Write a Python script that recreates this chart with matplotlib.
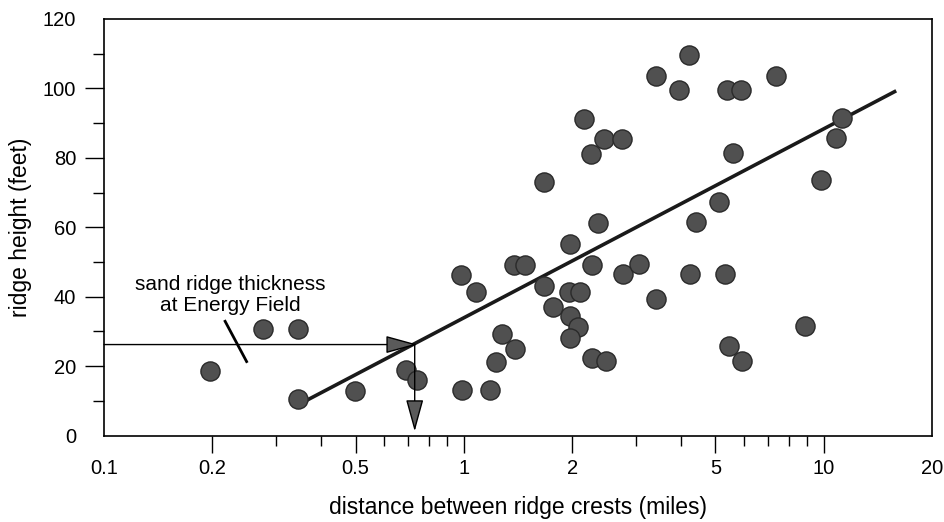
import numpy as np
import matplotlib
matplotlib.use("Agg")
import matplotlib.pyplot as plt
from matplotlib.ticker import FixedLocator, FixedFormatter, NullFormatter

plt.rcParams['font.family'] = ['Liberation Sans', 'DejaVu Sans']

# ridge spacing (miles) and ridge height (feet)
dist = [0.197, 0.277, 0.347, 0.347, 0.498,
        0.690, 0.742, 0.985, 1.18, 0.980, 1.08, 1.28, 1.386, 1.23,
        1.377, 1.477, 1.67, 1.67, 1.77, 1.97, 1.96, 2.10, 1.97, 2.07,
        1.97, 2.36, 2.27, 2.27, 2.48, 2.16, 2.45, 2.75, 2.25, 2.76,
        3.06, 3.41, 3.42,
        4.22, 3.96, 5.40, 5.88, 7.36, 11.27, 10.80, 9.85, 5.58, 5.12,
        4.43, 4.24, 5.33, 8.89, 5.45, 5.93]
height = [18.5, 30.6, 30.6, 10.4, 12.8,
          18.9, 15.9, 13.0, 13.0, 46.2, 41.2, 29.3, 25.0, 21.2,
          49.0, 49.0, 72.9, 43.1, 37.0, 55.1, 41.3, 41.3, 34.3, 31.4,
          28.1, 61.2, 49.2, 22.4, 21.4, 91.2, 85.4, 85.4, 81.1, 46.4,
          49.5, 103.6, 39.4,
          109.6, 99.4, 99.4, 99.4, 103.6, 91.5, 85.6, 73.6, 81.4, 67.3,
          61.5, 46.4, 46.4, 31.5, 25.8, 21.4]

# fitted trend line end points
fit_x = [0.35, 15.9]
fit_y = [9.1, 99.3]

# Energy Field sand thickness and the spacing it reads to
field_thick = 26.2
field_dist = 0.735

xticks = [0.1, 0.2, 0.5, 1, 2, 5, 10, 20]
xticklabels = ['0.1', '0.2', '0.5', '1', '2', '5', '10', '20']
xminor = [0.3, 0.4, 0.6, 0.7, 0.8, 0.9, 3, 4, 6, 7, 8, 9]

fig = plt.figure(figsize=(9.45, 5.22), dpi=100)
ax = fig.add_axes([0.1101, 0.1657, 0.8762, 0.798])

ax.plot(fit_x, fit_y, color='#1a1a1a', lw=2.6, solid_capstyle='butt', zorder=2)
ax.scatter(dist, height, s=190, facecolor='#505050', edgecolor='#2a2a2a',
           linewidth=1.0, zorder=3)

# horizontal and vertical read-off arrows
arrow = dict(arrowstyle='-|>,head_length=2.0,head_width=0.55', mutation_scale=10,
             fc='#5a5a5a', ec='black', lw=1.0, shrinkA=0, shrinkB=0)
ax.annotate('', xy=(field_dist + 0.008, field_thick), xytext=(0.1, field_thick),
            arrowprops=arrow, zorder=4)
ax.annotate('', xy=(field_dist - 0.005, 1.2), xytext=(field_dist - 0.005, field_thick),
            arrowprops=arrow, zorder=4)

ax.text(0.224, 40.4, 'sand ridge thickness\nat Energy Field', ha='center',
        va='center', fontsize=15, linespacing=1.15)
ax.plot([0.217, 0.249], [32.9, 21.3], color='black', lw=2.0)

ax.set_xscale('log')
ax.set_xlim(0.1, 20)
ax.set_ylim(0, 120)

ax.xaxis.set_major_locator(FixedLocator(xticks))
ax.xaxis.set_major_formatter(FixedFormatter(xticklabels))
ax.xaxis.set_minor_locator(FixedLocator(xminor))
ax.xaxis.set_minor_formatter(NullFormatter())
ax.set_yticks(np.arange(0, 121, 20))
ax.set_yticks(np.arange(10, 120, 20), minor=True)

ax.tick_params(which='major', direction='out', length=12, width=1.0,
               labelsize=14.5, pad=6)
ax.tick_params(which='minor', direction='out', length=7, width=1.0)
ax.tick_params(axis='x', which='major', pad=5)
ax.tick_params(axis='y', which='major', length=14)
ax.tick_params(axis='y', which='minor', length=8)
for t in (ax.xaxis.get_major_ticks()[0], ax.xaxis.get_major_ticks()[-1],
          ax.yaxis.get_major_ticks()[0], ax.yaxis.get_major_ticks()[-1]):
    t.tick1line.set_visible(False)

for sp in ax.spines.values():
    sp.set_linewidth(1.2)

ax.set_xlabel('distance between ridge crests (miles)', fontsize=16.5, labelpad=13)
ax.set_ylabel('ridge height (feet)', fontsize=16.5, labelpad=8)

fig.savefig('out.png', dpi=100)
